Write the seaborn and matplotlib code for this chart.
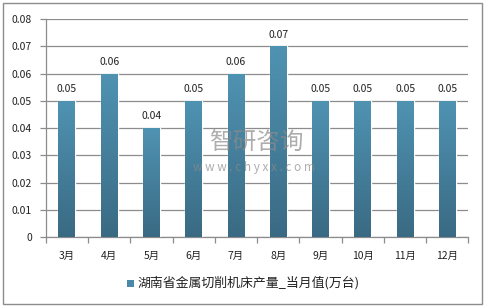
import matplotlib
matplotlib.use("Agg")
import matplotlib.pyplot as plt
import seaborn as sns
import numpy as np
import pandas as pd
from matplotlib.patches import Rectangle
from matplotlib.colors import LinearSegmentedColormap

months = ["3月", "4月", "5月", "6月", "7月", "8月", "9月", "10月", "11月", "12月"]
values = [0.05, 0.06, 0.04, 0.05, 0.06, 0.07, 0.05, 0.05, 0.05, 0.05]
series_name = "湖南省金属切削机床产量_当月值(万台)"
yticks = [0, 0.01, 0.02, 0.03, 0.04, 0.05, 0.06, 0.07, 0.08]

sns.set_theme(style="white")
plt.rcParams['font.family'] = ['Noto Sans CJK SC', 'DejaVu Sans']

df = pd.DataFrame({"month": months, "value": values})

fig = plt.figure(figsize=(4.87, 3.08), dpi=100)
ax = fig.add_axes([0.094, 0.2305, 0.868, 0.707])

sns.barplot(data=df, x="month", y="value", color="#4a8aa8", width=0.4,
            saturation=1, ax=ax, zorder=3)

ax.set_ylim(0, 0.08)
ax.set_xlim(-0.5, len(months) - 0.5)
ax.set_yticks(yticks)
ax.set_yticklabels(["0" if v == 0 else f"{v:.2f}" for v in yticks])
ax.yaxis.grid(True, color="#8c8c8c", linewidth=0.9, zorder=0)
ax.set_axisbelow(True)
ax.set_xlabel("")
ax.set_ylabel("")

# gradient fill inside bars
grad = np.linspace(0, 1, 256).reshape(-1, 1)
cmap = LinearSegmentedColormap.from_list("g", ["#3a6a83", "#4f93b2"])
for p in list(ax.patches):
    x0, y0 = p.get_x(), p.get_y()
    w, h = p.get_width(), p.get_height()
    im = ax.imshow(grad, extent=[x0, x0 + w, y0, y0 + h], origin="lower",
                   cmap=cmap, aspect="auto", zorder=4)
    im.set_clip_path(p)
ax.set_xlim(-0.5, len(months) - 0.5)
ax.set_ylim(0, 0.08)

for i, v in enumerate(values):
    ax.annotate(f"{v:.2f}", (i, v), xytext=(0, 5), textcoords="offset points",
                ha="center", va="bottom", fontsize=7.5, color="#222222")

for s in ["top", "right"]:
    ax.spines[s].set_visible(False)
for s in ["left", "bottom"]:
    ax.spines[s].set_color("#8c8c8c")
    ax.spines[s].set_linewidth(0.9)

ax.set_xticks(np.arange(len(months)))
ax.set_xticklabels(months)
ax.set_xticks(np.arange(-0.5, len(months)), minor=True)
ax.tick_params(axis="x", which="major", length=0, labelsize=7.5, pad=10, colors="#222222")
ax.tick_params(axis="x", which="minor", length=4, width=0.9, color="#8c8c8c", direction="out", bottom=True)
ax.tick_params(axis="y", which="major", length=4, width=0.9, color="#8c8c8c", direction="out", left=True,
               labelsize=7.5, labelcolor="#222222", pad=6)

# watermark
fig.text(256 / 487, 1 - 143 / 308, "智研咨询", fontsize=17, color="#8a8a8a", alpha=0.7,
         ha="center", va="center", zorder=10)
fig.text(254 / 487, 1 - 167 / 308, "w w w . c h y x x . c o m", fontsize=8.5, color="#8a8a8a",
         alpha=0.7, ha="center", va="center", zorder=10)

# legend
fig.patches.append(Rectangle((127 / 487, 1 - 287 / 308), 7 / 487, 7 / 308, transform=fig.transFigure,
                             facecolor="#4a8aa8", edgecolor="none"))
fig.text(137 / 487, 1 - 283 / 308, series_name, fontsize=9.3, color="#222222", ha="left", va="center")

# figure border
fig.patches.append(Rectangle((0.006, 0.013), 0.984, 0.977, transform=fig.transFigure,
                             facecolor="none", edgecolor="#8c8c8c", linewidth=1))

fig.savefig("out.png", dpi=100)
